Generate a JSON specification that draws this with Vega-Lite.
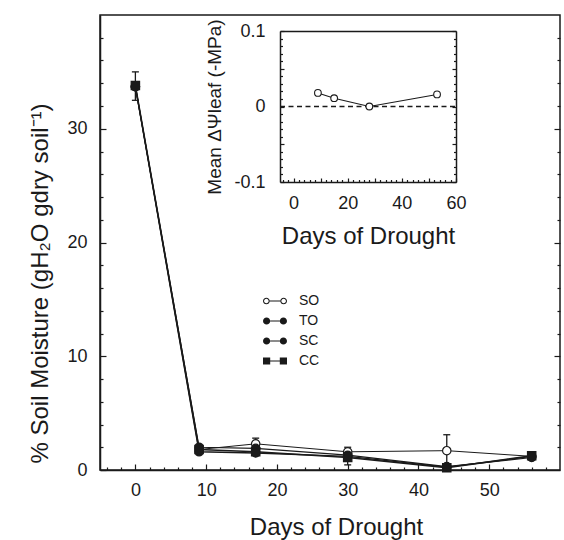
{
  "$schema": "https://vega.github.io/schema/vega-lite/v6.json",
  "width": 460,
  "height": 455,
  "autosize": {"type": "none"},
  "padding": {"left": 100, "top": 15, "right": 4, "bottom": 70},
  "background": "white",
  "config": {
    "font": "Liberation Sans",
    "view": {"stroke": "#1a1a1a", "strokeWidth": 1.5},
    "axis": {
      "grid": false,
      "domainColor": "#1a1a1a", "domainWidth": 1.5,
      "tickColor": "#1a1a1a", "tickWidth": 1.2,
      "labelColor": "#1a1a1a", "labelFont": "Liberation Sans", "labelFontSize": 18,
      "titleColor": "#1a1a1a", "titleFont": "Liberation Sans", "titleFontWeight": "normal",
      "labelFlush": false, "labelOverlap": false
    },
    "legend": {
      "orient": "none", "legendX": 162, "legendY": 273, "padding": 0,
      "labelFont": "Liberation Sans", "labelFontSize": 14, "labelColor": "#1a1a1a",
      "labelOffset": 11, "rowPadding": -8, "symbolSize": 576
    }
  },
  "datasets": {
    "main": [
      {"series": "SO", "day": 0, "moisture": 33.7},
      {"series": "SO", "day": 9, "moisture": 1.8},
      {"series": "SO", "day": 17, "moisture": 2.3},
      {"series": "SO", "day": 30, "moisture": 1.6},
      {"series": "SO", "day": 44, "moisture": 1.7},
      {"series": "SO", "day": 56, "moisture": 1.2},
      {"series": "TO", "day": 0, "moisture": 33.7},
      {"series": "TO", "day": 9, "moisture": 2.0},
      {"series": "TO", "day": 17, "moisture": 1.9},
      {"series": "TO", "day": 30, "moisture": 1.3},
      {"series": "TO", "day": 44, "moisture": 0.3},
      {"series": "TO", "day": 56, "moisture": 1.1},
      {"series": "SC", "day": 0, "moisture": 33.7},
      {"series": "SC", "day": 9, "moisture": 1.6},
      {"series": "SC", "day": 17, "moisture": 1.5},
      {"series": "SC", "day": 30, "moisture": 1.2},
      {"series": "SC", "day": 44, "moisture": 0.25},
      {"series": "SC", "day": 56, "moisture": 1.2},
      {"series": "CC", "day": 0, "moisture": 33.8},
      {"series": "CC", "day": 9, "moisture": 1.8},
      {"series": "CC", "day": 17, "moisture": 1.6},
      {"series": "CC", "day": 30, "moisture": 1.1},
      {"series": "CC", "day": 44, "moisture": 0.2},
      {"series": "CC", "day": 56, "moisture": 1.25}
    ],
    "errs": [
      {"series": "CC", "day": 0, "lo": 32.5, "hi": 35.0},
      {"series": "SO", "day": 17, "lo": 1.8, "hi": 2.8},
      {"series": "TO", "day": 30, "lo": 0.45, "hi": 2.0},
      {"series": "SO", "day": 44, "lo": 0.3, "hi": 3.1}
    ],
    "inset": [
      {"series": "SO", "day": 9, "dpsi": 0.018},
      {"series": "SO", "day": 15, "dpsi": 0.011},
      {"series": "SO", "day": 28, "dpsi": 0.0},
      {"series": "SO", "day": 53, "dpsi": 0.016}
    ],
    "zeroline": [{"from": -5, "to": 60, "level": 0}]
  },
  "resolve": {
    "scale": {"x": "independent", "y": "independent", "shape": "independent", "fill": "independent", "strokeWidth": "independent"},
    "axis": {"x": "independent", "y": "independent"}
  },
  "layer": [
    {
      "resolve": {"scale": {"x": "shared", "y": "shared"}, "axis": {"x": "independent", "y": "independent"}},
      "layer": [
        {
          "data": {"name": "errs"},
          "mark": {"type": "rule", "color": "#1a1a1a", "strokeWidth": 1.3},
          "encoding": {
            "x": {"field": "day", "type": "quantitative", "scale": {"domain": [-5, 60], "nice": false, "zero": false}, "axis": null},
            "y": {"field": "lo", "type": "quantitative", "scale": {"domain": [0, 40], "nice": false, "zero": false},
                  "axis": {"orient": "right", "values": [10, 20, 30], "tickSize": -6, "labels": false, "domain": false, "title": null}},
            "y2": {"field": "hi"}
          }
        },
        {
          "data": {"name": "errs"},
          "mark": {"type": "tick", "orient": "horizontal", "color": "#1a1a1a", "thickness": 1.3, "size": 7, "opacity": 1},
          "encoding": {
            "x": {"field": "day", "type": "quantitative", "scale": {"domain": [-5, 60], "nice": false, "zero": false}, "axis": null},
            "y": {"field": "hi", "type": "quantitative", "scale": {"domain": [0, 40], "nice": false, "zero": false},
                  "axis": {"orient": "right", "values": [2, 4, 6, 8, 12, 14, 16, 18, 22, 24, 26, 28, 32, 34, 36, 38], "tickSize": -3, "labels": false, "domain": false, "title": null}}
          }
        },
        {
          "data": {"name": "errs"},
          "mark": {"type": "tick", "orient": "horizontal", "color": "#1a1a1a", "thickness": 1.3, "size": 7, "opacity": 1},
          "encoding": {
            "x": {"field": "day", "type": "quantitative", "scale": {"domain": [-5, 60], "nice": false, "zero": false}, "axis": null},
            "y": {"field": "lo", "type": "quantitative", "scale": {"domain": [0, 40], "nice": false, "zero": false}, "axis": null}
          }
        },
        {
          "data": {"name": "main"},
          "mark": {"type": "line", "color": "#1a1a1a"},
          "encoding": {
            "x": {"field": "day", "type": "quantitative", "scale": {"domain": [-5, 60], "nice": false, "zero": false},
                  "axis": {"orient": "bottom", "values": [-4, -2, 2, 4, 6, 8, 12, 14, 16, 18, 22, 24, 26, 28, 32, 34, 36, 38, 42, 44, 46, 48, 52, 54, 56, 58], "tickSize": -3, "labels": false, "domain": false, "title": null}},
            "y": {"field": "moisture", "type": "quantitative", "scale": {"domain": [0, 40], "nice": false, "zero": false},
                  "axis": {"orient": "left", "values": [2, 4, 6, 8, 12, 14, 16, 18, 22, 24, 26, 28, 32, 34, 36, 38], "tickSize": -3, "labels": false, "domain": false, "title": null}},
            "detail": {"field": "series", "type": "nominal"},
            "order": {"field": "day", "type": "quantitative"},
            "strokeWidth": {"field": "series", "type": "nominal", "scale": {"domain": ["SO", "TO", "SC", "CC"], "range": [1, 1.6, 1.6, 1.6]}, "legend": null}
          }
        },
        {
          "data": {"name": "main"},
          "mark": {"type": "point", "filled": true, "stroke": "#1a1a1a", "strokeWidth": 1.2, "size": 70, "opacity": 1},
          "encoding": {
            "x": {"field": "day", "type": "quantitative", "scale": {"domain": [-5, 60], "nice": false, "zero": false},
                  "axis": {"orient": "bottom", "values": [0, 10, 20, 30, 40, 50], "tickSize": -6, "labelPadding": 17, "title": "Days of Drought", "titleFontSize": 24, "titlePadding": 16, "titleX": 236}},
            "y": {"field": "moisture", "type": "quantitative", "scale": {"domain": [0, 40], "nice": false, "zero": false},
                  "axis": {"orient": "left", "values": [0, 10, 20, 30], "tickSize": -6, "labelPadding": 19, "title": "% Soil Moisture (gH₂O gdry soil⁻¹)", "titleFontSize": 24, "titlePadding": 14, "titleY": 268}},
            "shape": {"field": "series", "type": "nominal", "scale": {"domain": ["SO", "TO", "SC", "CC"], "range": ["circle", "circle", "circle", "square"]}, "legend": null},
            "fill": {"field": "series", "type": "nominal", "scale": {"domain": ["SO", "TO", "SC", "CC"], "range": ["white", "#1a1a1a", "#1a1a1a", "#1a1a1a"]}, "legend": null}
          }
        }
      ]
    },
    {
      "resolve": {"scale": {"x": "shared", "y": "shared"}, "axis": {"x": "independent", "y": "independent"}},
      "layer": [
        {
          "data": {"name": "zeroline"},
          "mark": {"type": "rule", "color": "#1a1a1a", "strokeWidth": 1.5, "strokeDash": [5, 3.5]},
          "encoding": {
            "x": {"field": "from", "type": "quantitative", "scale": {"domain": [-5, 60], "range": [180, 356], "nice": false, "zero": false},
                  "axis": {"orient": "top", "offset": -16, "ticks": false, "labels": false, "title": null}},
            "x2": {"field": "to"},
            "y": {"field": "level", "type": "quantitative", "scale": {"domain": [-0.1, 0.1], "range": [167, 16], "nice": false, "zero": false},
                  "axis": {"orient": "right", "offset": -104, "values": [-0.1, -0.05, 0, 0.05, 0.1], "tickSize": -4, "labels": false, "title": null}}
          }
        },
        {
          "data": {"name": "inset"},
          "mark": {"type": "line", "color": "#1a1a1a", "strokeWidth": 1.1},
          "encoding": {
            "x": {"field": "day", "type": "quantitative", "scale": {"domain": [-5, 60], "range": [180, 356], "nice": false, "zero": false},
                  "axis": {"orient": "bottom", "offset": -288, "values": [0, 10, 20, 30, 40, 50, 60], "tickSize": -4, "labelPadding": 16, "labelExpr": "datum.value % 20 === 0 ? datum.label : ''", "title": "Days of Drought", "titleFontSize": 24, "titlePadding": 12}},
            "y": {"field": "dpsi", "type": "quantitative", "scale": {"domain": [-0.1, 0.1], "range": [167, 16], "nice": false, "zero": false},
                  "axis": {"orient": "left", "offset": -180, "values": [-0.1, -0.05, 0, 0.05, 0.1], "tickSize": -4, "labelPadding": 19, "labelExpr": "abs(datum.value) === 0.05 ? '' : replace(format(datum.value, '.1~f'), '−', '-')", "title": "Mean ΔΨleaf (-MPa)", "titleFontSize": 19, "titlePadding": 9}}
          }
        },
        {
          "data": {"name": "inset"},
          "mark": {"type": "point", "filled": true, "fill": "white", "stroke": "#1a1a1a", "strokeWidth": 1.1, "size": 45, "opacity": 1},
          "encoding": {
            "x": {"field": "day", "type": "quantitative", "scale": {"domain": [-5, 60], "range": [180, 356], "nice": false, "zero": false},
                  "axis": {"orient": "bottom", "offset": -288, "values": [-4, -2, 2, 4, 6, 8, 12, 14, 16, 18, 22, 24, 26, 28, 32, 34, 36, 38, 42, 44, 46, 48, 52, 54, 56, 58], "tickSize": -2.5, "labels": false, "domain": false, "title": null}},
            "y": {"field": "dpsi", "type": "quantitative", "scale": {"domain": [-0.1, 0.1], "range": [167, 16], "nice": false, "zero": false},
                  "axis": {"orient": "left", "offset": -180, "values": [-0.09, -0.08, -0.07, -0.06, -0.04, -0.03, -0.02, -0.01, 0.01, 0.02, 0.03, 0.04, 0.06, 0.07, 0.08, 0.09], "tickSize": -2.5, "labels": false, "domain": false, "title": null}}
          }
        },
        {
          "data": {"name": "main"},
          "transform": [{"filter": "false"}],
          "mark": {"type": "point", "filled": true, "color": "#1a1a1a", "opacity": 1},
          "encoding": {
            "x": {"field": "day", "type": "quantitative", "scale": {"domain": [-5, 60], "range": [180, 356], "nice": false, "zero": false}, "axis": null},
            "y": {"field": "moisture", "type": "quantitative", "scale": {"domain": [-0.1, 0.1], "range": [167, 16], "nice": false, "zero": false},
                  "axis": {"orient": "right", "offset": -104, "values": [-0.09, -0.08, -0.07, -0.06, -0.04, -0.03, -0.02, -0.01, 0.01, 0.02, 0.03, 0.04, 0.06, 0.07, 0.08, 0.09], "tickSize": -2.5, "labels": false, "domain": false, "title": null}},
            "shape": {
              "field": "series", "type": "nominal",
              "scale": {
                "domain": ["SO", "TO", "SC", "CC"],
                "range": [
                  "M-1,0A0.28,0.28,0,1,0,-0.44,0A0.28,0.28,0,1,0,-1,0ZM-0.91,0A0.19,0.19,0,1,1,-0.53,0A0.19,0.19,0,1,1,-0.91,0ZM-0.44,-0.045L0.44,-0.045L0.44,0.045L-0.44,0.045ZM0.44,0A0.28,0.28,0,1,0,1,0A0.28,0.28,0,1,0,0.44,0ZM0.53,0A0.19,0.19,0,1,1,0.91,0A0.19,0.19,0,1,1,0.53,0Z",
                  "M-1,0A0.3,0.3,0,1,0,-0.4,0A0.3,0.3,0,1,0,-1,0ZM-0.4,-0.045L0.4,-0.045L0.4,0.045L-0.4,0.045ZM0.4,0A0.3,0.3,0,1,0,1,0A0.3,0.3,0,1,0,0.4,0Z",
                  "M-1,0A0.3,0.3,0,1,0,-0.4,0A0.3,0.3,0,1,0,-1,0ZM-0.4,-0.045L0.4,-0.045L0.4,0.045L-0.4,0.045ZM0.4,0A0.3,0.3,0,1,0,1,0A0.3,0.3,0,1,0,0.4,0Z",
                  "M-1,-0.3L-0.4,-0.3L-0.4,0.3L-1,0.3ZM-0.4,-0.045L0.4,-0.045L0.4,0.045L-0.4,0.045ZM0.4,-0.3L1,-0.3L1,0.3L0.4,0.3Z"
                ]
              },
              "legend": {
                "title": null,
                "encode": {"symbols": {"update": {"fill": {"value": "#1a1a1a"}, "stroke": {"value": "transparent"}, "opacity": {"value": 1}, "size": {"value": 576}}}}
              }
            }
          }
        }
      ]
    }
  ]
}
